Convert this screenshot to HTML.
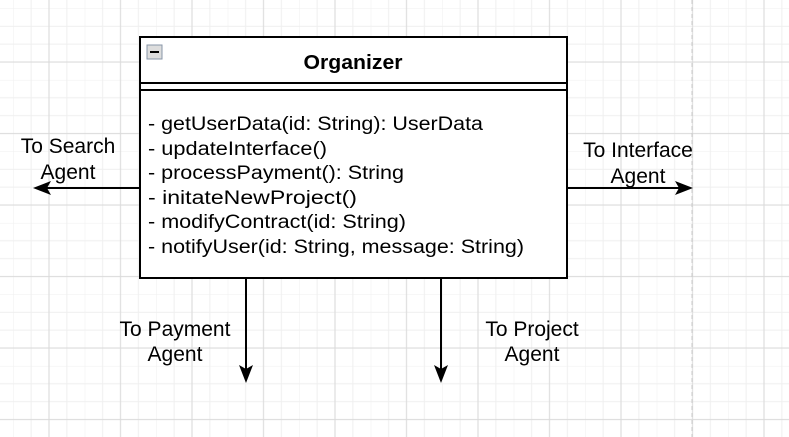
<!DOCTYPE html>
<html><head><style>body{margin:0;background:#fff}svg{display:block}text{font-family:"Liberation Sans",Arial,sans-serif}</style></head><body>
<svg width="789" height="437" xmlns="http://www.w3.org/2000/svg">
<defs>
<pattern id="g" x="13.25" y="8.4" width="71.5" height="71.5" patternUnits="userSpaceOnUse">
<path d="M0 0V71.5M17.875 0V71.5M35.75 0V71.5M53.625 0V71.5M0 0H71.5M0 17.875H71.5M0 35.75H71.5M0 53.625H71.5" stroke="#efefef" stroke-width="1" fill="none"/>
<path d="M35.75 0V71.5M0 53.625H71.5" stroke="#dadada" stroke-width="1" fill="none"/>
</pattern>
</defs>
<rect width="789" height="437" fill="url(#g)"/>
<line x1="692" y1="0" x2="692" y2="437" stroke="#c8c8c8" stroke-dasharray="4,3"/>
<rect x="140" y="37" width="427" height="241" fill="#fff" stroke="#000" stroke-width="2"/>
<line x1="140" y1="83" x2="567" y2="83" stroke="#000" stroke-width="2"/>
<line x1="140" y1="90" x2="567" y2="90" stroke="#000" stroke-width="2"/>
<rect x="147" y="45" width="15" height="14" fill="#ddd" stroke="#8896a8"/>
<line x1="150" y1="52" x2="159" y2="52" stroke="#000" stroke-width="2"/>
<text x="353" y="69" font-size="20" font-weight="bold" text-anchor="middle" textLength="99" lengthAdjust="spacingAndGlyphs">Organizer</text>
<g font-size="19">
<text x="148" y="130" textLength="335" lengthAdjust="spacingAndGlyphs">- getUserData(id: String): UserData</text>
<text x="148" y="155" textLength="179" lengthAdjust="spacingAndGlyphs">- updateInterface()</text>
<text x="148" y="179" textLength="256" lengthAdjust="spacingAndGlyphs">- processPayment(): String</text>
<text x="148" y="204" textLength="209" lengthAdjust="spacingAndGlyphs">- initateNewProject()</text>
<text x="148" y="228" textLength="258" lengthAdjust="spacingAndGlyphs">- modifyContract(id: String)</text>
<text x="148" y="253" textLength="376" lengthAdjust="spacingAndGlyphs">- notifyUser(id: String, message: String)</text>
</g>
<g stroke="#000" stroke-width="2">
<line x1="140" y1="188" x2="44" y2="188"/>
<line x1="567" y1="188" x2="682" y2="188"/>
<line x1="246" y1="278" x2="246" y2="372"/>
<line x1="441" y1="278" x2="441" y2="372"/>
</g>
<path d="M33 188L51 181L47 188L51 195Z M693 188L675 181L679 188L675 195Z M246 383L239 365L246 369L253 365Z M441 383L434 365L441 369L448 365Z"/>
<g font-size="21" text-anchor="middle">
<text x="68" y="153">To Search</text><text x="68" y="179">Agent</text>
<text x="638" y="157">To Interface</text><text x="638" y="183">Agent</text>
<text x="175" y="336">To Payment</text><text x="175" y="361">Agent</text>
<text x="532" y="336">To Project</text><text x="532" y="361">Agent</text>
</g>
</svg>
</body></html>
